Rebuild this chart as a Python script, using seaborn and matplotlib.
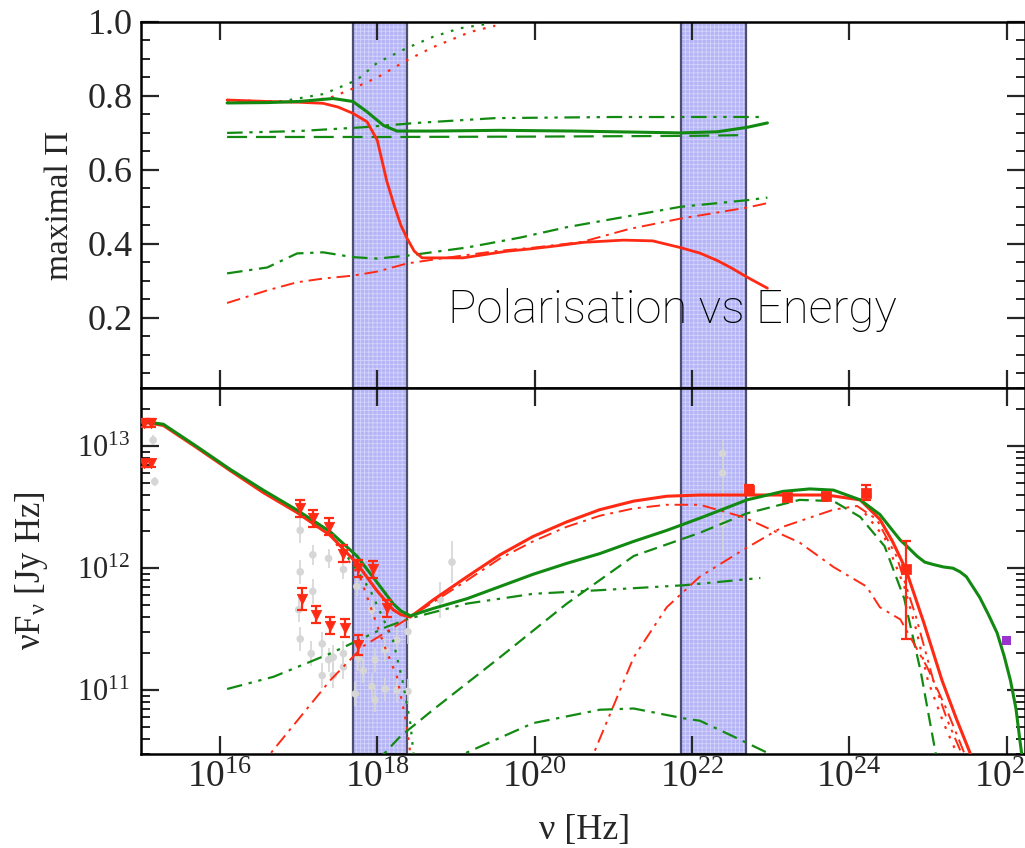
import numpy as np
import matplotlib
matplotlib.use("Agg")
import matplotlib.pyplot as plt
from matplotlib.ticker import LogLocator, MultipleLocator, NullFormatter, FixedLocator
import seaborn as sns

# ---- dados (log10 nu) ----
RED = "#ff2a14"
GREEN = "#128a12"
GRAY = "#d6d6d6"

band_lo = [17.69, 21.86]
band_hi = [18.38, 22.69]

# painel superior: polarizacao maxima
pol_red_x = [16.09, 16.6, 17.0, 17.31, 17.5, 17.69, 17.87, 18.0, 18.12, 18.22, 18.3, 18.38, 18.47,
             18.57, 19.09, 19.4, 19.65, 19.98, 20.3, 20.62, 21.13, 21.5, 21.85, 22.1, 22.32, 22.5, 22.7, 22.96]
pol_red = [0.789, 0.785, 0.783, 0.78, 0.77, 0.753, 0.73, 0.68, 0.57, 0.50, 0.45, 0.414, 0.38,
           0.362, 0.362, 0.372, 0.38, 0.387, 0.395, 0.404, 0.41, 0.408, 0.39, 0.375, 0.355, 0.335, 0.31, 0.28]
pol_green_x = [16.09, 16.6, 17.0, 17.44, 17.69, 17.87, 18.08, 18.25, 18.71, 19.56, 20.5, 21.85, 22.32, 22.7, 22.96]
pol_green = [0.781, 0.782, 0.785, 0.793, 0.785, 0.757, 0.72, 0.705, 0.705, 0.707, 0.705, 0.70, 0.703, 0.715, 0.727]
pol_green_dash_x = [16.09, 18.0, 20.0, 22.0, 22.65]
pol_green_dash = [0.689, 0.689, 0.690, 0.692, 0.694]
pol_green_ddot_x = [16.09, 17.0, 17.8, 18.5, 19.5, 21.0, 22.9]
pol_green_ddot = [0.70, 0.705, 0.715, 0.727, 0.74, 0.743, 0.743]
pol_green_dot_x = [16.09, 16.8, 17.31, 17.44, 17.74, 18.0, 18.38, 18.71, 19.05, 19.4]
pol_green_dot = [0.782, 0.786, 0.805, 0.816, 0.843, 0.89, 0.93, 0.96, 0.983, 0.995]
pol_red_dot_x = [16.09, 17.0, 17.4, 17.69, 18.0, 18.38, 18.71, 19.18, 19.5]
pol_red_dot = [0.789, 0.783, 0.795, 0.82, 0.85, 0.897, 0.932, 0.973, 0.99]
pol_green_dd_x = [16.09, 16.6, 16.98, 17.31, 17.69, 18.0, 18.38, 19.14, 19.82, 20.41, 21.2, 21.85, 22.7, 22.96]
pol_green_dd = [0.32, 0.336, 0.374, 0.377, 0.364, 0.36, 0.368, 0.39, 0.417, 0.445, 0.475, 0.50, 0.518, 0.525]
pol_red_dd_x = [16.09, 16.6, 16.98, 17.31, 17.69, 18.0, 18.38, 18.8, 19.5, 20.0, 20.6, 21.2, 21.85, 22.7, 22.96]
pol_red_dd = [0.24, 0.274, 0.296, 0.306, 0.314, 0.325, 0.347, 0.36, 0.38, 0.39, 0.405, 0.44, 0.468, 0.498, 0.51]

# painel inferior: log10(nu F_nu)
sed_green_x = [15.0, 15.28, 15.70, 16.13, 16.55, 16.97, 17.40, 17.74, 17.99, 18.2, 18.3, 18.42, 18.71, 19.14,
               19.56, 19.98, 20.41, 20.83, 21.26, 21.68, 22.10, 22.70, 23.16, 23.50, 23.80, 24.14, 24.39,
               24.55, 24.65, 24.75, 24.86, 24.96, 25.07, 25.2, 25.32, 25.41, 25.49, 25.58, 25.66, 25.77,
               25.88, 25.97, 26.05, 26.12, 26.17, 26.25]
sed_green = [13.205, 13.18, 13.0, 12.81, 12.64, 12.48, 12.30, 12.10, 11.89, 11.71, 11.65, 11.61, 11.67, 11.75,
             11.85, 11.95, 12.04, 12.12, 12.22, 12.31, 12.41, 12.56, 12.63, 12.65, 12.64, 12.56, 12.44,
             12.31, 12.23, 12.17, 12.10, 12.05, 12.03, 12.01, 12.0, 11.97, 11.93, 11.84, 11.76, 11.62,
             11.47, 11.28, 11.08, 10.85, 10.59, 10.2]
sed_red_x = [15.0, 15.28, 15.70, 16.13, 16.55, 16.97, 17.40, 17.74, 17.99, 18.2, 18.3, 18.42, 18.71, 19.14,
             19.56, 19.98, 20.41, 20.83, 21.26, 21.68, 22.10, 23.71, 24.14, 24.39, 24.55, 24.72, 24.95,
             25.18, 25.36, 25.54, 25.6]
sed_red = [13.20, 13.17, 12.99, 12.80, 12.62, 12.46, 12.27, 12.04, 11.82, 11.66, 11.62, 11.60, 11.74, 11.93,
           12.11, 12.26, 12.38, 12.48, 12.55, 12.59, 12.60, 12.60, 12.56, 12.40, 12.22, 11.99, 11.55,
           11.08, 10.77, 10.48, 10.38]
sed_green_dash_x = [18.0, 18.29, 18.71, 19.56, 20.41, 21.26, 22.10, 22.70, 23.37, 23.80, 24.14, 24.45, 24.7, 24.91, 25.1, 25.13]
sed_green_dash = [10.42, 10.62, 10.84, 11.27, 11.71, 12.10, 12.29, 12.45, 12.56, 12.55, 12.42, 12.18, 11.75, 11.15, 10.48, 10.35]
sed_green_ddot_x = [16.09, 16.68, 17.40, 18.12, 18.42, 19.14, 19.98, 20.83, 21.89, 22.87]
sed_green_ddot = [11.01, 11.11, 11.30, 11.52, 11.59, 11.71, 11.79, 11.82, 11.86, 11.92]
sed_green_dd_x = [18.9, 19.14, 19.98, 20.83, 21.26, 21.89, 22.1, 22.53, 22.95, 23.1]
sed_green_dd = [10.38, 10.49, 10.73, 10.84, 10.85, 10.77, 10.75, 10.62, 10.49, 10.4]
sed_red_dd_x = [16.5, 16.64, 17.40, 17.82, 18.37, 19.14, 19.56, 19.98, 20.41, 20.83, 21.26, 21.68, 22.1,
                22.65, 23.37, 23.80, 24.22, 24.39, 24.65, 24.99, 25.24, 25.46, 25.5]
sed_red_dd = [10.36, 10.48, 11.08, 11.36, 11.58, 11.90, 12.08, 12.22, 12.34, 12.43, 12.49, 12.52, 12.52,
              12.42, 12.21, 12.01, 11.85, 11.68, 11.58, 11.19, 10.84, 10.49, 10.4]
sed_red_ddot_x = [20.6, 20.75, 21.26, 21.68, 22.10, 22.65, 23.16, 23.80, 24.10, 24.35, 24.6, 24.85, 25.07, 25.25, 25.43, 25.47]
sed_red_ddot = [10.3, 10.48, 11.27, 11.68, 11.93, 12.15, 12.34, 12.48, 12.51, 12.40, 12.1, 11.6, 11.08, 10.75, 10.48, 10.4]
sed_red_dot_hi_x = [24.2, 24.45, 24.7, 24.85, 25.0, 25.2, 25.37, 25.4]
sed_red_dot_hi = [12.45, 12.25, 11.85, 11.5, 11.08, 10.73, 10.48, 10.4]
sed_red_dot_x = [17.4, 17.78, 18.08, 18.25, 18.37, 18.42]
sed_red_dot = [12.27, 11.93, 11.38, 11.11, 10.73, 10.48]
sed_green_dot_x = [17.4, 17.91, 18.2, 18.33, 18.42, 18.46]
sed_green_dot = [12.30, 11.82, 11.41, 11.05, 10.73, 10.48]

# pontos observados
tri_x = [15.04, 15.12, 15.04, 15.12, 17.02, 17.18, 17.38, 17.56, 17.75, 17.94, 18.12,
         17.04, 17.22, 17.40, 17.59, 17.76]
tri_y = [13.19, 13.19, 12.86, 12.86, 12.49, 12.41, 12.34, 12.12, 12.0, 11.99, 11.67,
         11.75, 11.62, 11.53, 11.51, 11.37]
tri_err = [0.03, 0.03, 0.03, 0.03, 0.07, 0.07, 0.07, 0.07, 0.07, 0.07, 0.07,
           0.09, 0.07, 0.07, 0.07, 0.08]
sq_x = [22.72, 23.21, 23.71, 24.21, 24.72]
sq_y = [12.64, 12.58, 12.59, 12.62, 11.99]
sq_err_lo = [0.04, 0.03, 0.03, 0.06, 0.57]
sq_err_hi = [0.04, 0.03, 0.03, 0.06, 0.23]
gray_x = [15.15, 15.17, 17.02, 17.02, 17.0, 17.02, 17.18, 17.18, 17.16, 17.38, 17.30, 17.30, 17.38,
          17.57, 17.44, 17.44, 17.57, 17.57, 17.74, 17.76, 17.82, 17.72, 17.93, 17.97, 17.93, 17.97,
          18.10, 18.10, 18.25, 18.25, 18.39, 18.39, 18.80, 18.95, 22.39, 22.39, 22.39]
gray_y = [13.05, 12.71, 12.31, 11.97, 11.66, 11.42, 12.11, 11.81, 11.30, 12.08, 11.38, 11.12, 11.25,
          11.99, 11.27, 11.12, 11.30, 11.19, 11.85, 11.26, 11.16, 10.97, 11.66, 11.25, 11.03, 10.92,
          11.33, 11.01, 11.41, 11.0, 11.48, 10.99, 11.74, 12.05, 12.94, 12.78, 12.37]
gray_err = [0.04, 0.04, 0.1, 0.1, 0.1, 0.1, 0.08, 0.1, 0.1, 0.08, 0.1, 0.1, 0.1,
            0.08, 0.1, 0.1, 0.1, 0.1, 0.08, 0.1, 0.1, 0.1, 0.08, 0.1, 0.1, 0.1,
            0.1, 0.1, 0.1, 0.1, 0.1, 0.1, 0.15, 0.17, 0.12, 0.2, 0.25]
purple_x = [26.0]
purple_y = [11.41]

# ---- estilo ----
sns.set_theme(style="ticks")
plt.rcParams["font.family"] = ["Liberation Serif", "DejaVu Serif"]
plt.rcParams["mathtext.fontset"] = "custom"
plt.rcParams["mathtext.rm"] = "Liberation Serif"
plt.rcParams["mathtext.it"] = "Liberation Serif:italic"
plt.rcParams["hatch.linewidth"] = 0.6

fig = plt.figure(figsize=(10.25, 8.48), dpi=100)
L, W = 141.35 / 1025, 1 - 141.35 / 1025
ax1 = fig.add_axes([L, 1 - 388 / 848, W, 366 / 848])
ax2 = fig.add_axes([L, 1 - 754 / 848, W, 366 / 848])

XMIN, XMAX = 1e15, 10 ** 26.235


def curva(ax, lx, ly, color, ls="-", lw=1.5, logy=True, z=3):
    x = 10.0 ** np.array(lx)
    y = 10.0 ** np.array(ly) if logy else np.array(ly)
    sns.lineplot(x=x, y=y, ax=ax, color=color, linestyle=ls, linewidth=lw,
                 sort=False, estimator=None, legend=False, zorder=z)


DASH = (0, (6, 3))
DD = (0, (7, 3, 1.5, 3))
DDD = (0, (7, 3, 1.5, 3, 1.5, 3))
DOT = (0, (1.2, 3.5))

for ax in (ax1, ax2):
    ax.set_xscale("log")
    for lo, hi in zip(band_lo, band_hi):
        ax.axvspan(10 ** lo, 10 ** hi, facecolor="#b4b4f6", edgecolor="#d4d4fb", hatch="++++",
                   linewidth=0, zorder=0.5)
        ax.axvspan(10 ** lo, 10 ** hi, fill=False, edgecolor="#4e4e6e", linewidth=1.6, zorder=0.6)

# painel superior
curva(ax1, pol_green_dot_x, pol_green_dot, GREEN, DOT, 1.6, logy=False)
curva(ax1, pol_red_dot_x, pol_red_dot, RED, DOT, 1.6, logy=False)
curva(ax1, pol_green_dash_x, pol_green_dash, GREEN, (0, (9, 4)), 1.6, logy=False)
curva(ax1, pol_green_ddot_x, pol_green_ddot, GREEN, DDD, 1.6, logy=False)
curva(ax1, pol_green_dd_x, pol_green_dd, GREEN, DD, 1.6, logy=False)
curva(ax1, pol_red_dd_x, pol_red_dd, RED, DD, 1.4, logy=False)
curva(ax1, pol_red_x, pol_red, RED, "-", 2.0, logy=False, z=4)
curva(ax1, pol_green_x, pol_green, GREEN, "-", 2.2, logy=False, z=4)
ax1.text(10 ** 18.9, 0.187, "Polarisation vs Energy", family=["Roboto", "Liberation Sans", "DejaVu Sans"],
         fontweight="light", fontsize=34, color="black", va="baseline", ha="left", zorder=10)

ax1.set_ylim(0.01, 1.0)
ax1.set_xlim(XMIN, XMAX)
ax1.yaxis.set_major_locator(FixedLocator([0.2, 0.4, 0.6, 0.8, 1.0]))
ax1.yaxis.set_major_formatter(matplotlib.ticker.FormatStrFormatter("%.1f"))
ax1.yaxis.set_minor_locator(MultipleLocator(0.05))
ax1.set_ylabel("maximal \u03a0", fontsize=24)
ax1.yaxis.set_label_coords(-0.075, 0.5)

# painel inferior
ax2.set_yscale("log")
gx, gy = 10.0 ** np.array(gray_x), 10.0 ** np.array(gray_y)
ge = np.array(gray_err)
ax2.errorbar(gx, gy, yerr=[gy - gy / 10 ** ge, gy * 10 ** ge - gy], fmt="none", ecolor=GRAY,
             elinewidth=1.2, capsize=0, zorder=1)
sns.scatterplot(x=gx, y=gy, ax=ax2, color=GRAY, s=30, edgecolor="none", zorder=1.1, legend=False)

curva(ax2, sed_red_dot_x, sed_red_dot, RED, DOT, 1.6)
curva(ax2, sed_green_dot_x, sed_green_dot, GREEN, DOT, 1.6)
curva(ax2, sed_green_dash_x, sed_green_dash, GREEN, DASH, 1.6)
curva(ax2, sed_green_ddot_x, sed_green_ddot, GREEN, DDD, 1.6)
curva(ax2, sed_green_dd_x, sed_green_dd, GREEN, DD, 1.6)
curva(ax2, sed_red_dd_x, sed_red_dd, RED, DD, 1.4)
curva(ax2, sed_red_ddot_x, sed_red_ddot, RED, DDD, 1.4)
curva(ax2, sed_red_dot_hi_x, sed_red_dot_hi, RED, DOT, 1.6)
curva(ax2, sed_red_x, sed_red, RED, "-", 2.2, z=4)
curva(ax2, sed_green_x, sed_green, GREEN, "-", 2.2, z=4)

tx, ty = 10.0 ** np.array(tri_x), 10.0 ** np.array(tri_y)
te = np.array(tri_err)
ax2.errorbar(tx, ty, yerr=[ty - ty / 10 ** te, ty * 10 ** te - ty], fmt="none", ecolor=RED,
             elinewidth=1.6, capsize=3.5, capthick=1.6, zorder=5)
sns.scatterplot(x=tx, y=ty, ax=ax2, marker="v", color=RED, s=55, edgecolor=RED, zorder=5.1, legend=False)

sx, sy = 10.0 ** np.array(sq_x), 10.0 ** np.array(sq_y)
ax2.errorbar(sx, sy, yerr=[sy - sy / 10 ** np.array(sq_err_lo), sy * 10 ** np.array(sq_err_hi) - sy],
             fmt="none", ecolor=RED, elinewidth=1.6, capsize=3.5, capthick=1.6, zorder=5)
sns.scatterplot(x=sx, y=sy, ax=ax2, marker="s", color=RED, s=45, edgecolor=RED, zorder=5.1, legend=False)
sns.scatterplot(x=10.0 ** np.array(purple_x), y=10.0 ** np.array(purple_y), ax=ax2, marker="s",
                color="#9933cc", s=40, edgecolor="none", zorder=5, legend=False)

ax2.set_xlim(XMIN, XMAX)
ax2.set_ylim(3e10, 3e13)
ax2.yaxis.set_major_locator(LogLocator(base=10, numticks=10))
ax2.yaxis.set_minor_locator(LogLocator(base=10, subs=np.arange(2, 10), numticks=20))
ax2.yaxis.set_minor_formatter(NullFormatter())
ax2.set_ylabel("\u03bdF$_{\\mathregular{\u03bd}}$ [Jy Hz]", fontsize=25)
ax2.yaxis.set_label_coords(-0.103, 0.5)
ax2.set_xlabel("\u03bd [Hz]", fontsize=26)
ax2.xaxis.set_label_coords(0.502, -0.165)

xt = [1e16, 1e18, 1e20, 1e22, 1e24, 1e26]
for ax in (ax1, ax2):
    ax.set_xticks(xt)
    ax.xaxis.set_minor_locator(FixedLocator([]))
    ax.tick_params(which="major", direction="in", top=True, right=True, length=13, width=1.6)
    ax.tick_params(which="minor", direction="in", top=True, right=True, length=6.5, width=1.4)
    for sp in ax.spines.values():
        sp.set_linewidth(1.8)
        sp.set_color("black")
ax1.tick_params(axis="x", labelbottom=False)
ax1.tick_params(axis="y", labelsize=26, pad=6)
ax2.tick_params(axis="y", labelsize=22, pad=8)
ax2.tick_params(axis="x", labelsize=27, pad=5)

fig.savefig("out.png", dpi=100)
